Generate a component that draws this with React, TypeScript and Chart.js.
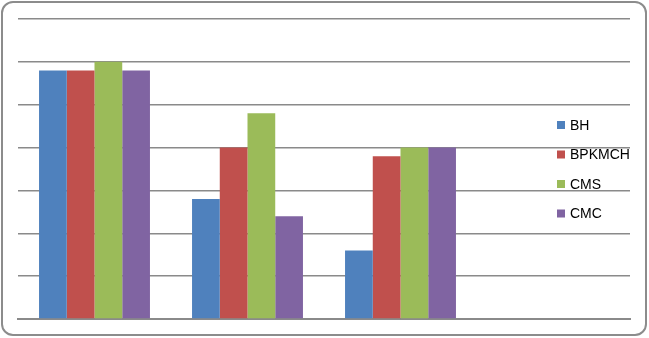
import React, { useEffect, useRef } from "react";
import { Chart, registerables } from "chart.js";

Chart.register(...registerables);

const categories = ["1", "2", "3", ""];
const seriesNames = ["BH", "BPKMCH", "CMS", "CMC"];
const bhValues = [5.8, 2.8, 1.6, null];
const bpkmchValues = [5.8, 4.0, 3.8, null];
const cmsValues = [6.0, 4.8, 4.0, null];
const cmcValues = [5.8, 2.4, 4.0, null];
const seriesColors = ["#4F81BD", "#C0504D", "#9BBB59", "#8064A2"];

const legendPlugin = {
  id: "overlayLegend",
  afterDraw(chart: any) {
    const ctx = chart.ctx;
    ctx.save();
    ctx.font = "14px 'Liberation Sans', Arial, sans-serif";
    ctx.textBaseline = "middle";
    chart.data.datasets.forEach((ds: any, i: number) => {
      const y = 125 + i * 29.5;
      ctx.fillStyle = ds.backgroundColor;
      ctx.fillRect(557, y - 4, 8, 8);
      ctx.fillStyle = "#000";
      ctx.fillText(ds.label, 570, y + 1);
    });
    ctx.restore();
  },
};

export default function App() {
  const ref = useRef<HTMLCanvasElement>(null);
  useEffect(() => {
    document.body.style.margin = "0";
    const values = [bhValues, bpkmchValues, cmsValues, cmcValues];
    const chart = new Chart(ref.current!, {
      type: "bar",
      data: {
        labels: categories,
        datasets: seriesNames.map((name, i) => ({
          label: name,
          data: values[i] as any,
          backgroundColor: seriesColors[i],
          borderWidth: 0,
          categoryPercentage: 0.725,
          barPercentage: 1,
        })),
      },
      options: {
        animation: false,
        responsive: false,
        maintainAspectRatio: false,
        layout: { padding: { left: 18, top: 19, right: 19, bottom: 19 } },
        plugins: { legend: { display: false }, tooltip: { enabled: false } },
        scales: {
          x: {
            ticks: { display: false },
            grid: { display: false, drawTicks: false },
            border: { display: true, color: "#8a8a8a", width: 2 },
          },
          y: {
            min: 0,
            max: 7,
            ticks: { display: false, stepSize: 1 },
            grid: { color: "#8a8a8a", lineWidth: 1.5, drawTicks: false },
            border: { display: false },
          },
        },
      },
      plugins: [legendPlugin],
    });
    return () => chart.destroy();
  }, []);
  return (
    <div style={{ position: "fixed", left: 0, top: 0, width: 649, height: 338, background: "#fff" }}>
      <canvas ref={ref} width={649} height={338} style={{ position: "absolute", left: 0, top: 0 }} />
      <div
        style={{
          position: "absolute",
          left: 1,
          top: 1,
          width: 646,
          height: 335,
          boxSizing: "border-box",
          border: "2px solid #8c8c8c",
          borderRadius: 12,
          pointerEvents: "none",
        }}
      />
    </div>
  );
}
